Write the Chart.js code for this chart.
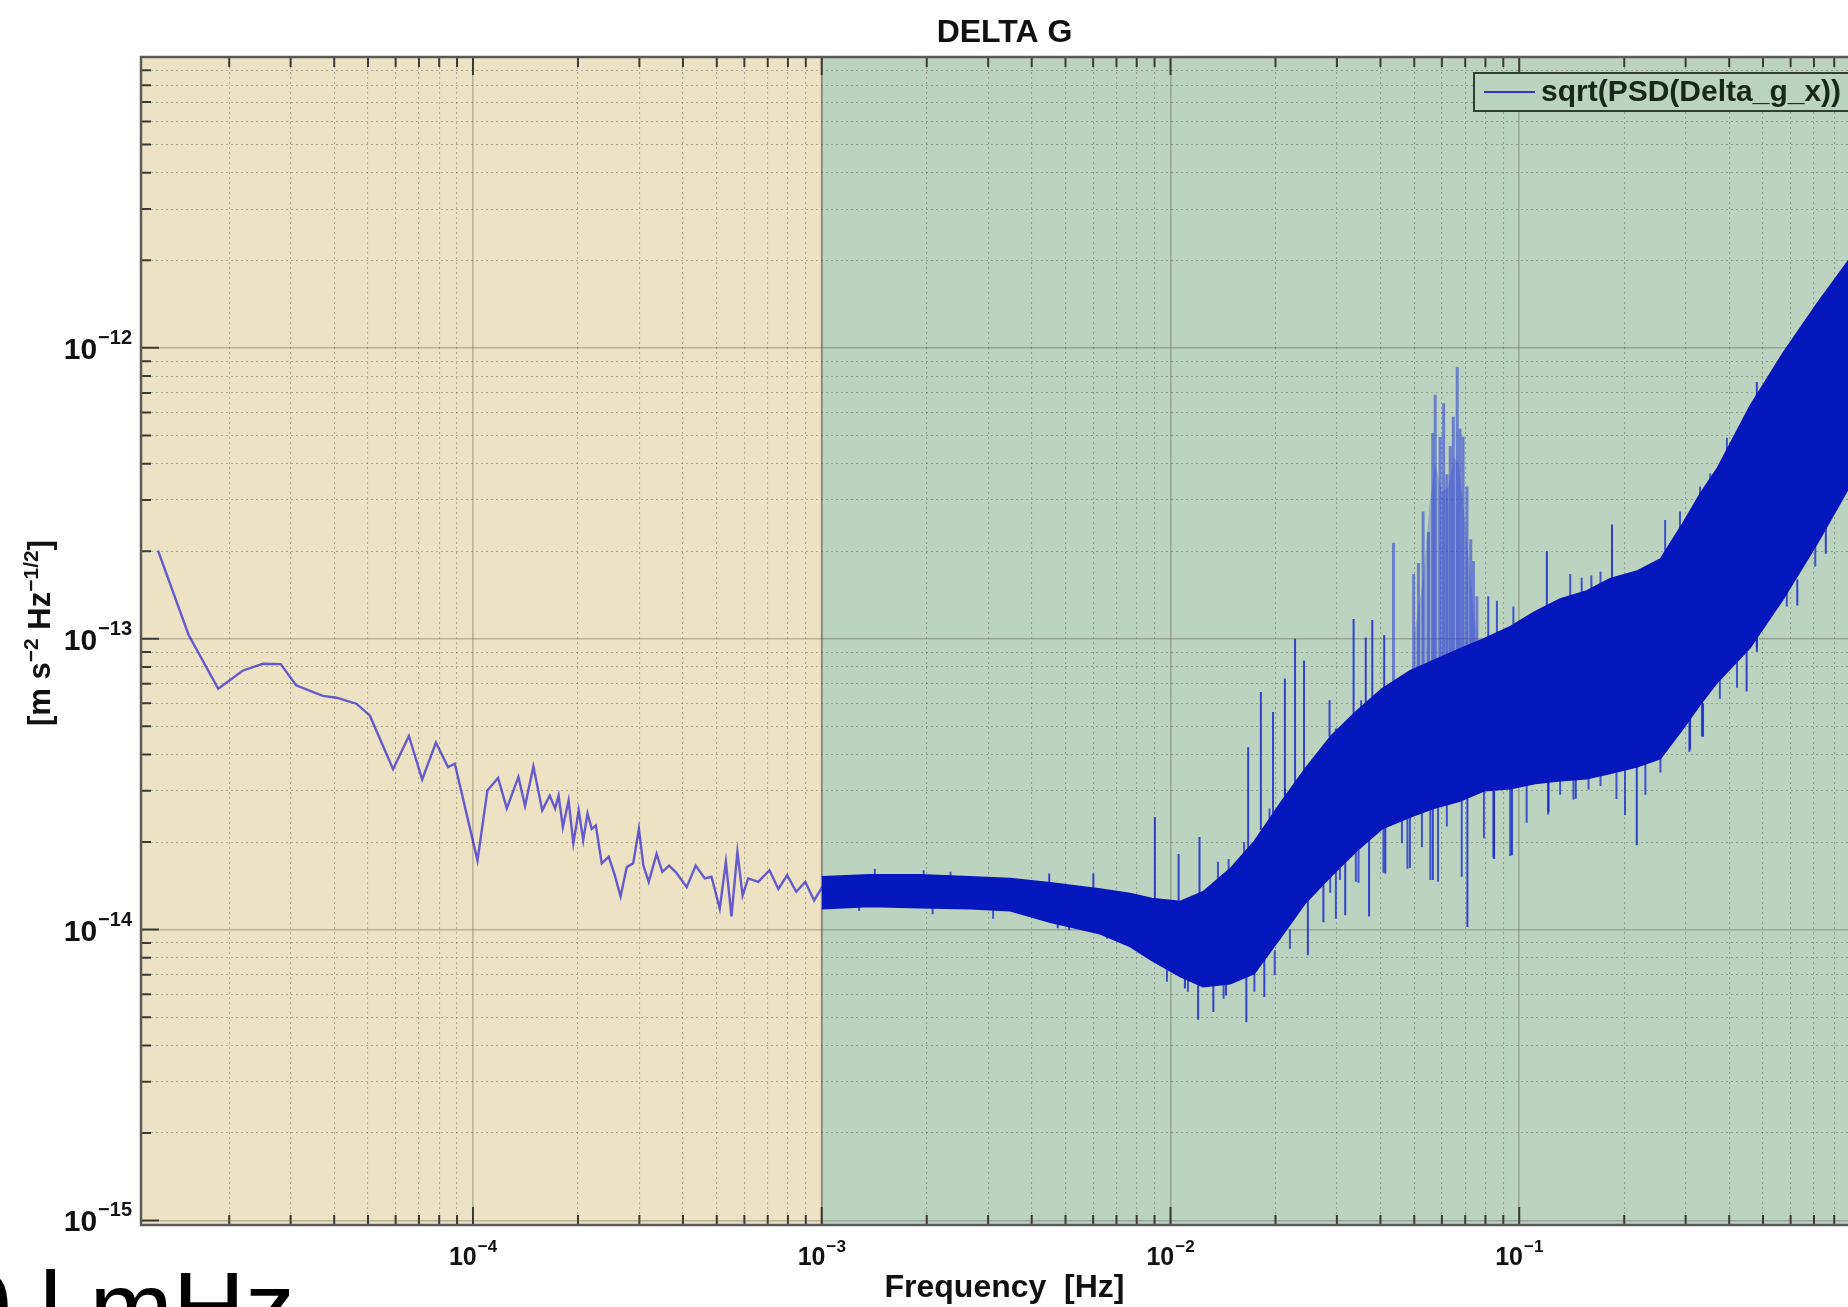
<!DOCTYPE html>
<html lang="en">
<head>
<meta charset="UTF-8">
<title>DELTA G</title>
<script src="https://cdn.jsdelivr.net/npm/chart.js"></script>
<style>
  body { margin: 0; background: #fff; overflow: hidden; }
  #wrap { width: 1880px; height: 1307px; position: relative; }
</style>
</head>
<body>
<div id="wrap"><canvas id="psdChart"></canvas></div>
<script>
// ---- values ----
// low frequency part, single thin line
const lowF = [1.25e-5, 1.53e-5, 1.86e-5, 2.19e-5, 2.50e-5, 2.81e-5, 3.11e-5, 3.71e-5, 4.06e-5, 4.63e-5,
  5.06e-5, 5.90e-5, 6.55e-5, 7.15e-5, 7.83e-5, 8.48e-5, 8.87e-5, 1.03e-4, 1.10e-4, 1.18e-4,
  1.25e-4, 1.35e-4, 1.41e-4, 1.49e-4, 1.58e-4, 1.66e-4, 1.72e-4, 1.76e-4, 1.81e-4, 1.88e-4,
  1.94e-4, 2.01e-4, 2.07e-4, 2.13e-4, 2.19e-4, 2.25e-4, 2.34e-4, 2.45e-4, 2.55e-4, 2.65e-4,
  2.76e-4, 2.88e-4, 2.99e-4, 3.08e-4, 3.19e-4, 3.36e-4, 3.49e-4, 3.65e-4, 3.81e-4, 4.10e-4,
  4.35e-4, 4.62e-4, 4.83e-4, 5.10e-4, 5.31e-4, 5.51e-4, 5.73e-4, 5.93e-4, 6.15e-4, 6.58e-4,
  7.08e-4, 7.51e-4, 7.96e-4, 8.45e-4, 8.97e-4, 9.51e-4, 1.01e-3];
const lowV = [2.01e-13, 1.03e-13, 6.73e-14, 7.78e-14, 8.20e-14, 8.18e-14, 6.92e-14, 6.36e-14, 6.27e-14, 5.98e-14,
  5.45e-14, 3.56e-14, 4.63e-14, 3.28e-14, 4.40e-14, 3.62e-14, 3.72e-14, 1.73e-14, 3.01e-14, 3.32e-14,
  2.61e-14, 3.35e-14, 2.66e-14, 3.64e-14, 2.57e-14, 2.89e-14, 2.61e-14, 2.89e-14, 2.25e-14, 2.78e-14,
  1.98e-14, 2.57e-14, 2.03e-14, 2.51e-14, 2.22e-14, 2.28e-14, 1.69e-14, 1.78e-14, 1.54e-14, 1.30e-14,
  1.64e-14, 1.69e-14, 2.22e-14, 1.66e-14, 1.46e-14, 1.82e-14, 1.58e-14, 1.66e-14, 1.58e-14, 1.40e-14,
  1.66e-14, 1.50e-14, 1.52e-14, 1.18e-14, 1.71e-14, 1.11e-14, 1.85e-14, 1.31e-14, 1.50e-14, 1.46e-14,
  1.60e-14, 1.38e-14, 1.54e-14, 1.35e-14, 1.46e-14, 1.26e-14, 1.42e-14];

// dense part above 1 mHz: upper and lower edge of the noise band
const bandF = [1.0e-3, 1.374e-3, 1.91e-3, 2.66e-3, 3.47e-3, 4.52e-3, 6.28e-3, 7.66e-3, 8.85e-3, 1.066e-2,
  1.24e-2, 1.483e-2, 1.738e-2, 2.06e-2, 2.43e-2, 2.89e-2, 3.43e-2, 4.04e-2, 4.87e-2, 5.66e-2,
  6.77e-2, 7.93e-2, 9.42e-2, 0.111, 0.131, 0.156, 0.182, 0.218, 0.254, 0.295,
  0.330, 0.369, 0.459, 0.571, 0.714, 0.877, 1.0];
const bandTop = [1.52e-14, 1.545e-14, 1.545e-14, 1.52e-14, 1.50e-14, 1.45e-14, 1.38e-14, 1.33e-14, 1.28e-14, 1.25e-14,
  1.35e-14, 1.62e-14, 2.01e-14, 2.71e-14, 3.57e-14, 4.64e-14, 5.66e-14, 6.73e-14, 7.76e-14, 8.40e-14,
  9.24e-14, 1.00e-13, 1.10e-13, 1.24e-13, 1.37e-13, 1.46e-13, 1.61e-13, 1.71e-13, 1.88e-13, 2.50e-13,
  3.15e-13, 3.84e-13, 6.32e-13, 9.61e-13, 1.42e-12, 1.99e-12, 2.28e-12];
const bandBot = [1.18e-14, 1.20e-14, 1.19e-14, 1.18e-14, 1.16e-14, 1.06e-14, 9.68e-15, 8.74e-15, 7.82e-15, 6.89e-15,
  6.36e-15, 6.52e-15, 7.06e-15, 9.31e-15, 1.23e-14, 1.53e-14, 1.87e-14, 2.22e-14, 2.44e-14, 2.61e-14,
  2.77e-14, 3.00e-14, 3.05e-14, 3.18e-14, 3.25e-14, 3.30e-14, 3.44e-14, 3.63e-14, 3.87e-14, 4.91e-14,
  5.93e-14, 7.06e-14, 9.31e-14, 1.37e-13, 2.12e-13, 3.27e-13, 4.15e-13];

// single long spikes sticking out of the band
const upF = [4.49e-3, 6.01e-3, 9.02e-3, 1.055e-2, 1.211e-2, 1.67e-2, 1.816e-2, 1.968e-2, 2.128e-2, 2.276e-2,
  2.415e-2, 2.858e-2, 3.35e-2, 3.63e-2, 3.79e-2, 4.10e-2, 0.120, 0.1845, 0.480];
const upBase = [1.45e-14, 1.38e-14, 1.28e-14, 1.25e-14, 1.30e-14, 1.9e-14, 2.2e-14, 2.5e-14, 2.7e-14, 3.2e-14,
  3.5e-14, 4.6e-14, 5.5e-14, 5.9e-14, 6.1e-14, 6.7e-14, 1.15e-13, 1.6e-13, 5.5e-13];
const upPeak = [1.56e-14, 1.56e-14, 2.44e-14, 1.82e-14, 2.08e-14, 4.24e-14, 6.56e-14, 5.6e-14, 7.3e-14, 1.0e-13,
  8.41e-14, 6.14e-14, 1.17e-13, 1.01e-13, 1.16e-13, 1.03e-13, 2.0e-13, 2.47e-13, 7.64e-13];

const dnF = [4.75e-3, 5.12e-3, 6.58e-3, 8.32e-3, 1.10e-2, 1.20e-2, 1.327e-2, 1.443e-2, 1.65e-2, 1.858e-2,
  2.477e-2, 2.744e-2, 3.17e-2, 3.71e-2, 4.13e-2, 5.65e-2, 7.10e-2, 8.47e-2, 9.53e-2, 0.1213,
  0.1452, 0.2173, 0.3076, 0.3365, 0.4487, 0.4801, 0.627, 0.757];
const dnBase = [1.10e-14, 1.08e-14, 1.02e-14, 9.0e-15, 7.4e-15, 7.0e-15, 6.8e-15, 6.7e-15, 7.0e-15, 8.0e-15,
  1.3e-14, 1.5e-14, 1.8e-14, 2.1e-14, 2.3e-14, 2.7e-14, 2.9e-14, 3.0e-14, 3.1e-14, 3.3e-14,
  3.35e-14, 3.7e-14, 5.5e-14, 6.0e-14, 9.0e-14, 1.0e-13, 1.6e-13, 2.5e-13];
const dnLow = [1.01e-14, 9.96e-15, 9.3e-15, 8.2e-15, 6.27e-15, 4.9e-15, 5.21e-15, 5.94e-15, 4.8e-15, 5.87e-15,
  8.17e-15, 1.06e-14, 1.12e-14, 1.11e-14, 1.56e-14, 1.48e-14, 1.02e-14, 1.75e-14, 1.80e-14, 2.53e-14,
  2.82e-14, 1.95e-14, 4.09e-14, 4.6e-14, 6.58e-14, 9.02e-14, 1.30e-13, 1.96e-13];

// short hairs along the upper and lower edge of the band
const hairUpF = [1.42e-3, 1.96e-3, 2.34e-3, 1.368e-2, 1.468e-2, 1.626e-2, 1.923e-2, 2.13e-2, 2.61e-2, 2.98e-2,
  3.52e-2, 4.78e-2, 8.15e-2, 8.63e-2, 9.62e-2, 0.140, 0.151, 0.161, 0.171, 0.262,
  0.289, 0.330, 0.353, 0.394];
const hairUpBase = [1.45e-14, 1.45e-14, 1.45e-14, 1.3e-14, 1.4e-14, 1.7e-14, 2.2e-14, 2.6e-14, 3.4e-14, 4.2e-14,
  5.2e-14, 6.5e-14, 9.0e-14, 9.5e-14, 1.0e-13, 1.3e-13, 1.35e-13, 1.4e-13, 1.5e-13, 1.9e-13,
  2.2e-13, 2.8e-13, 3.2e-13, 4.0e-13];
const hairUpTip = [1.62e-14, 1.60e-14, 1.58e-14, 1.71e-14, 1.75e-14, 2.0e-14, 2.61e-14, 3.05e-14, 3.97e-14, 4.91e-14,
  6.14e-14, 7.48e-14, 1.40e-13, 1.35e-13, 1.29e-13, 1.67e-13, 1.62e-13, 1.65e-13, 1.70e-13, 2.56e-13,
  2.74e-13, 3.34e-13, 3.70e-13, 4.91e-13];

const hairDnF = [1.28e-3, 2.08e-3, 3.10e-3, 9.77e-3, 1.122e-2, 1.42e-2, 1.74e-2, 1.99e-2, 2.20e-2, 2.87e-2,
  2.98e-2, 3.06e-2, 3.40e-2, 3.46e-2, 4.08e-2, 4.61e-2, 4.78e-2, 4.86e-2, 5.26e-2, 5.56e-2,
  5.85e-2, 6.20e-2, 6.84e-2, 7.92e-2, 8.43e-2, 9.42e-2, 0.105, 0.121, 0.131, 0.143,
  0.158, 0.171, 0.190, 0.201, 0.230, 0.254, 0.309, 0.334, 0.376, 0.421,
  0.480, 0.585, 0.706];
const hairDnBase = [1.25e-14, 1.25e-14, 1.22e-14, 7.8e-15, 7.0e-15, 7.0e-15, 7.5e-15, 8.5e-15, 1.0e-14, 1.8e-14,
  1.8e-14, 1.9e-14, 2.1e-14, 2.1e-14, 2.5e-14, 2.6e-14, 2.7e-14, 2.7e-14, 2.8e-14, 2.9e-14,
  2.9e-14, 3.0e-14, 3.1e-14, 3.3e-14, 3.3e-14, 3.4e-14, 3.5e-14, 3.6e-14, 3.6e-14, 3.7e-14,
  3.7e-14, 3.8e-14, 4.0e-14, 4.1e-14, 4.3e-14, 4.5e-14, 6.0e-14, 6.8e-14, 8.2e-14, 9.5e-14,
  1.15e-13, 1.7e-13, 2.4e-13];
const hairDnTip = [1.16e-14, 1.13e-14, 1.09e-14, 6.62e-15, 6.12e-15, 5.79e-15, 6.12e-15, 6.97e-15, 8.6e-15, 1.34e-14,
  1.09e-14, 1.48e-14, 1.46e-14, 1.45e-14, 1.57e-14, 1.98e-14, 1.62e-14, 1.63e-14, 1.92e-14, 1.48e-14,
  1.46e-14, 2.26e-14, 1.52e-14, 2.06e-14, 1.77e-14, 1.79e-14, 2.33e-14, 2.49e-14, 2.91e-14, 2.80e-14,
  3.03e-14, 3.12e-14, 2.81e-14, 2.48e-14, 2.91e-14, 3.47e-14, 4.16e-14, 4.61e-14, 6.22e-14, 6.79e-14,
  9.33e-14, 1.29e-13, 1.77e-13];

// cluster of lines around 60 mHz
const clF = [4.36e-2, 4.98e-2, 5.14e-2, 5.30e-2, 5.49e-2, 5.65e-2, 5.74e-2, 5.93e-2, 6.07e-2, 6.20e-2,
  6.34e-2, 6.47e-2, 6.64e-2, 6.76e-2, 6.90e-2, 7.08e-2, 7.26e-2, 7.39e-2, 7.56e-2];
const clBase = [7.0e-14, 7.5e-14, 7.7e-14, 7.9e-14, 8.1e-14, 8.3e-14, 8.4e-14, 8.6e-14, 8.7e-14, 8.8e-14,
  8.9e-14, 9.0e-14, 9.1e-14, 9.2e-14, 9.3e-14, 9.4e-14, 9.5e-14, 9.6e-14, 9.7e-14];
const clPeak = [2.14e-13, 1.67e-13, 1.82e-13, 2.74e-13, 2.33e-13, 5.1e-13, 6.9e-13, 4.94e-13, 6.45e-13, 3.68e-13,
  4.6e-13, 5.8e-13, 8.6e-13, 5.28e-13, 4.95e-13, 3.34e-13, 2.2e-13, 1.85e-13, 1.40e-13];
// light blue haze that the dense cluster lines form
const hazeF = [4.98e-2, 5.30e-2, 5.55e-2, 5.74e-2, 6.00e-2, 6.25e-2, 6.50e-2, 6.70e-2, 7.00e-2, 7.26e-2, 7.56e-2];
const hazeV = [1.0e-13, 1.6e-13, 3.0e-13, 4.0e-13, 3.2e-13, 3.3e-13, 4.2e-13, 4.0e-13, 2.5e-13, 1.6e-13, 1.0e-13];

// axes
const xTickVals = [1e-4, 1e-3, 1e-2, 1e-1];
const xTickExp = ['\u22124', '\u22123', '\u22122', '\u22121'];
const yTickVals = [1e-15, 1e-14, 1e-13, 1e-12];
const yTickExp = ['\u221215', '\u221214', '\u221213', '\u221212'];
const xMin = 1.117e-5, xMax = 1, yMin = 9.65e-16, yMax = 1e-11;
const regionSplit = 1e-3;   // beige left of 1 mHz, green right of it

const FONT = '"Liberation Sans", Arial, Helvetica, sans-serif';
const BEIGE = 'rgb(237,226,196)';
const GREEN = 'rgb(188,211,192)';
const BAND = '#0617BD';

const pts = (xs, ys) => xs.map((x, i) => ({ x: x, y: ys[i] }));
// vertical strokes: from a[i] to b[i], then a gap
function strokes(xs, a, b) {
    const out = [];
    xs.forEach((x, i) => { out.push({ x: x, y: a[i] }, { x: x, y: b[i] }, { x: x, y: null }); });
    return out;
}

const isDecade = v => Math.abs(Math.log10(v) - Math.round(Math.log10(v))) < 1e-6;
function logTicks(min, max) {
    const out = [];
    for (let e = Math.floor(Math.log10(min)); e <= Math.ceil(Math.log10(max)); e++) {
        for (let m = 1; m <= 9; m++) {
            const v = m * Math.pow(10, e);
            if (v >= min * 0.9999 && v <= max * 1.0001) out.push(v);
        }
    }
    return out;
}

const gridOpts = {
    drawTicks: false,
    color: ctx => (ctx.tick && isDecade(ctx.tick.value)) ? 'rgba(70,70,50,0.30)' : 'rgba(40,40,30,0.30)',
    lineWidth: ctx => (ctx.tick && isDecade(ctx.tick.value)) ? 1.6 : 1.1
};
const borderOpts = {
    display: false,
    dash: ctx => (ctx.tick && !isDecade(ctx.tick.value)) ? [2, 3] : []
};

// draw "10" with a raised exponent
function drawPower(ctx, x, y, exp, base, sup, rise, align) {
    ctx.font = base;
    const w1 = ctx.measureText('10').width;
    ctx.font = sup;
    const w2 = ctx.measureText(exp).width;
    const x0 = align === 'right' ? x - w1 - w2 - 1 : x - (w1 + w2 + 1) / 2;
    ctx.textAlign = 'left';
    ctx.textBaseline = 'alphabetic';
    ctx.font = base;
    ctx.fillText('10', x0, y);
    ctx.font = sup;
    ctx.fillText(exp, x0 + w1 + 1, y - rise);
}

const framePlugin = {
    id: 'frame',
    beforeDraw(chart) {
        const { ctx, chartArea: a, scales: { x } } = chart;
        const split = x.getPixelForValue(regionSplit);
        ctx.save();
        ctx.fillStyle = BEIGE;
        ctx.fillRect(a.left, a.top, split - a.left, a.bottom - a.top);
        ctx.fillStyle = GREEN;
        ctx.fillRect(split, a.top, a.right - split, a.bottom - a.top);
        ctx.strokeStyle = 'rgba(120,105,70,0.45)';
        ctx.lineWidth = 2;
        ctx.beginPath();
        ctx.moveTo(split, a.top);
        ctx.lineTo(split, a.bottom);
        ctx.stroke();
        ctx.restore();
    },
    afterDraw(chart) {
        const { ctx, chartArea: a, scales: { x, y } } = chart;
        ctx.save();
        // inward ticks on all sides
        ctx.strokeStyle = '#3b3b33';
        ctx.lineWidth = 2;
        ctx.beginPath();
        y.ticks.forEach(t => {
            const py = y.getPixelForValue(t.value);
            const len = isDecade(t.value) ? 18 : 10;
            ctx.moveTo(a.left, py); ctx.lineTo(a.left + len, py);
            ctx.moveTo(a.right, py); ctx.lineTo(a.right - len, py);
        });
        x.ticks.forEach(t => {
            const px = x.getPixelForValue(t.value);
            const len = isDecade(t.value) ? 18 : 10;
            ctx.moveTo(px, a.top); ctx.lineTo(px, a.top + len);
            ctx.moveTo(px, a.bottom); ctx.lineTo(px, a.bottom - len);
        });
        ctx.stroke();
        // axes box
        ctx.strokeStyle = '#5a5a5a';
        ctx.lineWidth = 2.5;
        ctx.strokeRect(a.left, a.top, a.right - a.left, a.bottom - a.top);

        // tick labels
        ctx.fillStyle = '#111';
        yTickVals.forEach((v, i) => {
            const py = y.getPixelForValue(v);
            drawPower(ctx, a.left - 9, py + 11, yTickExp[i], 'bold 30px ' + FONT, 'bold 20px ' + FONT, 15, 'right');
        });
        xTickVals.forEach((v, i) => {
            const px = x.getPixelForValue(v);
            drawPower(ctx, px, a.bottom + 40, xTickExp[i], 'bold 25px ' + FONT, 'bold 17px ' + FONT, 13, 'center');
        });

        // y axis title with superscripts
        const parts = [['[m s', 0], ['\u22122', 1], [' Hz', 0], ['\u22121/2', 1], [']', 0]];
        const baseF = 'bold 31px ' + FONT, supF = 'bold 21px ' + FONT;
        let total = 0;
        parts.forEach(p => { ctx.font = p[1] ? supF : baseF; total += ctx.measureText(p[0]).width; });
        ctx.translate(50, (a.top + a.bottom) / 2 - 8);
        ctx.rotate(-Math.PI / 2);
        let cx = -total / 2;
        ctx.textAlign = 'left';
        ctx.textBaseline = 'alphabetic';
        parts.forEach(p => {
            ctx.font = p[1] ? supF : baseF;
            ctx.fillText(p[0], cx, p[1] ? -12 : 0);
            cx += ctx.measureText(p[0]).width;
        });
        ctx.setTransform(1, 0, 0, 1, 0, 0);

        // legend box, top right inside the axes
        const lx = 1474, ly = 73, lh = 38;
        ctx.fillStyle = GREEN;
        ctx.fillRect(lx, ly, a.right - 6 - lx, lh);
        ctx.strokeStyle = '#2f3f30';
        ctx.lineWidth = 2;
        ctx.strokeRect(lx, ly, a.right - 6 - lx, lh);
        ctx.strokeStyle = 'rgba(30,40,220,0.9)';
        ctx.beginPath();
        ctx.moveTo(lx + 10, ly + lh / 2);
        ctx.lineTo(lx + 61, ly + lh / 2);
        ctx.stroke();
        ctx.fillStyle = '#182818';
        ctx.font = 'bold 30px ' + FONT;
        ctx.textBaseline = 'middle';
        ctx.fillText('sqrt(PSD(Delta_g_x))', lx + 67, ly + lh / 2 + 1);

        // large slide text cut off at the bottom left
        ctx.fillStyle = '#000';
        ctx.font = '100px ' + FONT;
        ctx.textBaseline = 'alphabetic';
        ctx.fillText('0 l mHz', -44, 1342);
        ctx.restore();
    }
};

const ctx = document.getElementById('psdChart').getContext('2d');
const psdChart = new Chart(ctx, {
    type: 'line',
    data: {
        datasets: [
            { label: 'band top', data: pts(bandF, bandTop), borderColor: BAND, borderWidth: 1.5, pointRadius: 0, fill: false },
            { label: 'band bottom', data: pts(bandF, bandBot), borderColor: BAND, borderWidth: 1.5, pointRadius: 0,
              fill: '-1', backgroundColor: BAND },
            { label: 'sqrt(PSD(Delta_g_x))', data: pts(lowF, lowV), borderColor: 'rgba(30,20,210,0.66)', borderWidth: 2.4, pointRadius: 0 },
            { label: 'up', data: strokes(upF, upBase, upPeak), borderColor: 'rgba(15,30,205,0.8)', borderWidth: 2, pointRadius: 0 },
            { label: 'down', data: strokes(dnF, dnBase, dnLow), borderColor: 'rgba(15,30,205,0.8)', borderWidth: 2, pointRadius: 0 },
            { label: 'hair up', data: strokes(hairUpF, hairUpBase, hairUpTip), borderColor: 'rgba(20,40,205,0.75)', borderWidth: 2, pointRadius: 0 },
            { label: 'hair down', data: strokes(hairDnF, hairDnBase, hairDnTip), borderColor: 'rgba(20,40,205,0.75)', borderWidth: 2, pointRadius: 0 },
            { label: 'cluster', data: strokes(clF, clBase, clPeak), borderColor: 'rgba(40,60,215,0.55)', borderWidth: 3, pointRadius: 0 },
            { label: 'haze', data: pts(hazeF, hazeV), borderWidth: 0, borderColor: 'rgba(0,0,0,0)', pointRadius: 0,
              fill: { value: 8e-14 }, backgroundColor: 'rgba(50,70,215,0.28)' }
        ]
    },
    options: {
        responsive: true,
        maintainAspectRatio: false,
        animation: false,
        layout: { padding: { left: 0, right: 12, top: 0, bottom: 0 } },
        plugins: {
            legend: { display: false },
            tooltip: { enabled: false },
            title: {
                display: true,
                text: 'DELTA G',
                fullSize: false,
                color: '#111',
                font: { family: FONT, size: 32, weight: 'bold' },
                padding: { top: 14, bottom: 4.6 }
            }
        },
        scales: {
            x: {
                type: 'logarithmic',
                min: xMin,
                max: xMax,
                afterBuildTicks: s => { s.ticks = logTicks(xMin, xMax).map(v => ({ value: v })); },
                afterFit: s => { s.height = 82; },
                ticks: { display: false },
                grid: gridOpts,
                border: borderOpts,
                title: {
                    display: true,
                    text: 'Frequency  [Hz]',
                    color: '#111',
                    font: { family: FONT, size: 32, weight: 'bold' },
                    padding: { top: 0, bottom: 0 }
                }
            },
            y: {
                type: 'logarithmic',
                min: yMin,
                max: yMax,
                afterBuildTicks: s => { s.ticks = logTicks(yMin, yMax).map(v => ({ value: v })); },
                afterFit: s => { s.width = 141; },
                ticks: { display: false },
                grid: gridOpts,
                border: borderOpts
            }
        }
    },
    plugins: [framePlugin]
});
</script>
</body>
</html>
